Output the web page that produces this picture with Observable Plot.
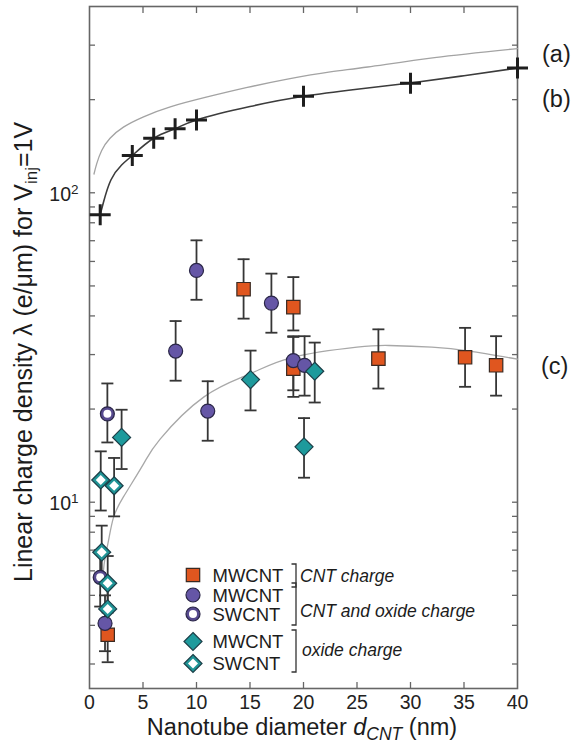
<!DOCTYPE html>
<html><head><meta charset="utf-8">
<script src="https://cdn.jsdelivr.net/npm/d3@7"></script>
<script src="https://cdn.jsdelivr.net/npm/@observablehq/plot@0.6"></script>
<style>
html,body{margin:0;padding:0;background:#fff;}
svg{display:block;}
</style></head><body><div id="chart"></div>
<script>
const FONT = "'Liberation Sans', Arial, Helvetica, sans-serif";

// ---- axes ----
const xTickLabels = [0, 5, 10, 15, 20, 25, 30, 35, 40];
const xInnerTicks = [5, 10, 15, 20, 25, 30, 35];
const yMinorTicks = [3,4,5,6,7,8,9,10,20,30,40,50,60,70,80,90,100,200,300];
const yLabelTicks = [10, 100];
const yTickLabels = ["10^1", "10^2"];

// ---- (a) model curve ----
const curveAD = [0.42, 0.67, 1.14, 1.92, 3.17, 5.05, 7.55, 11, 14.75, 18.5, 22.5, 26, 32.25, 40];
const curveAV = [115, 124, 137, 150, 163, 176, 189.5, 204, 219, 233, 246, 255, 273.5, 292.5];
// ---- (b) model curve and crosses ----
const curveBD = [1.0, 1.3, 2, 3, 4, 6, 8, 10, 15, 20, 25, 30, 35, 40];
const curveBV = [85, 93, 110, 123, 132, 150, 161, 172, 190, 205, 216, 226.5, 239, 253];
const crossD = [1, 4, 6, 8, 10, 20, 30, 40];
const crossV = [85, 132, 150, 161, 172, 205, 226, 253];
// ---- (c) fit curve ----
const curveCD = [1.3, 1.45, 1.77, 2.23, 3.17, 5.05, 6.6, 10.7, 15, 19, 25, 28, 32, 35.5, 40];
const curveCV = [6.0, 6.6, 7.5, 8.9, 10.4, 13.3, 16.0, 21.9, 26, 29.4, 31.7, 32.1, 31.7, 30.8, 29.0];

// ---- MWCNT, CNT charge (squares) ----
const sqD  = [14.4, 19.05, 19.05, 27.0, 35.1, 38.0, 1.7];
const sqV  = [48.8, 42.7, 27.0, 29.1, 29.4, 27.7, 3.73];
const sqLo = [39.2, 35.9, 21.9, 23.3, 23.6, 22.1, 3.04];
const sqHi = [61.0, 53.4, 34.4, 36.2, 36.6, 34.4, 4.6];
// ---- MWCNT, CNT and oxide charge (filled circles) ----
const mcD  = [10.0, 17.0, 8.05, 19.05, 20.1, 11.05, 1.45];
const mcV  = [56.1, 44.0, 30.8, 28.7, 27.7, 19.7, 4.06];
const mcLo = [45.1, 35.3, 24.7, 23.0, 22.1, 15.8, 3.3];
const mcHi = [70.2, 54.8, 38.5, 34.2, 34.4, 24.6, 5.0];
// ---- SWCNT, CNT and oxide charge (open circles) ----
const scD  = [1.67, 1.0];
const scV  = [19.3, 5.72];
const scLo = [15.6, 4.6];
const scHi = [24.2, 7.0];
// ---- MWCNT, oxide charge (filled diamonds) ----
const mdD  = [15.05, 21.05, 3.0, 20.05];
const mdV  = [24.9, 26.5, 16.2, 15.1];
const mdLo = [19.8, 21.0, 12.8, 12.0];
const mdHi = [30.9, 32.8, 19.9, 18.7];
// ---- SWCNT, oxide charge (open diamonds) ----
const sdD  = [1.05, 2.3, 1.14, 1.7, 1.7];
const sdV  = [11.8, 11.3, 6.89, 5.47, 4.52];
const sdLo = [9.4, 9.0, 5.6, 4.4, 3.7];
const sdHi = [14.6, 13.9, 8.4, 6.7, 5.5];

const curve = (D, V) => D.map((d, i) => ({d, v: V[i]}));
const series = (D, V, L, H) => D.map((d, i) => ({d, v: V[i], lo: L[i], hi: H[i]}));

const curveA = curve(curveAD, curveAV);
const curveB = curve(curveBD, curveBV);
const curveC = curve(curveCD, curveCV);
const crosses = curve(crossD, crossV);
const squares = series(sqD, sqV, sqLo, sqHi);
const mCircles = series(mcD, mcV, mcLo, mcHi);
const sCircles = series(scD, scV, scLo, scHi);
const mDiamonds = series(mdD, mdV, mdLo, mdHi);
const sDiamonds = series(sdD, sdV, sdLo, sdHi);
const allPts = [...squares, ...mCircles, ...sCircles, ...mDiamonds, ...sDiamonds];

// ---- custom symbols (r = sqrt(size/pi)) ----
const R = s => Math.sqrt(s / Math.PI);
const drawSquare = (c, r) => { c.moveTo(-r, -r); c.lineTo(r, -r); c.lineTo(r, r); c.lineTo(-r, r); c.closePath(); };
const drawDiamond = (c, r) => { c.moveTo(0, -r); c.lineTo(r, 0); c.lineTo(0, r); c.lineTo(-r, 0); c.closePath(); };
const drawPlus = (c, r) => { c.moveTo(-r, 0); c.lineTo(r, 0); c.moveTo(0, -r); c.lineTo(0, r); };
const drawCap = (c, r) => { c.moveTo(-r, 0); c.lineTo(r, 0); };
const symSquare = {draw: (c, s) => drawSquare(c, R(s))};
const symDiamond = {draw: (c, s) => drawDiamond(c, R(s))};
const symPlus = {draw: (c, s) => drawPlus(c, R(s))};
const symCap = {draw: (c, s) => drawCap(c, R(s))};

const C = {
  sqFill: "#E0561F", sqStroke: "#3a2a22",
  mcFill: "#6556A6", mcStroke: "#2a2647",
  scRing: "#574a8f",
  mdFill: "#1E9A9C", mdStroke: "#1c3f48",
  sdRing: "#1f9496",
  err: "#363636", axis: "#666"
};

const chart = Plot.plot({
  width: 571, height: 745,
  marginLeft: 89, marginRight: 54, marginTop: 6, marginBottom: 57,
  x: {domain: [0, 40], axis: null},
  y: {type: "log", domain: [2.5, 400], axis: null},
  style: {fontFamily: FONT, fontSize: "19.5px", background: "white", color: "#222", overflow: "visible"},
  marks: [
    Plot.axisX({anchor: "bottom", ticks: xInnerTicks, tickSize: -6, fill: "none", stroke: C.axis, strokeWidth: 1.3, label: null}),
    Plot.axisX({anchor: "top", ticks: xInnerTicks, tickSize: -6, fill: "none", stroke: C.axis, strokeWidth: 1.3, label: null}),
    Plot.axisX({anchor: "bottom", ticks: xTickLabels, tickSize: 0, tickPadding: 7, fill: "#222", fontSize: 19.5, label: null}),
    Plot.axisY({anchor: "left", ticks: yMinorTicks, tickSize: -6, fill: "none", stroke: C.axis, strokeWidth: 1.3, label: null}),
    Plot.axisY({anchor: "right", ticks: yMinorTicks, tickSize: -6, fill: "none", stroke: C.axis, strokeWidth: 1.3, label: null}),
    Plot.axisY({anchor: "left", ticks: yLabelTicks, tickSize: 0, tickPadding: 11, dy: 2, fill: "#222", fontSize: 19.5,
      tickFormat: d => yTickLabels[yLabelTicks.indexOf(d)], label: null}),
    Plot.frame({stroke: C.axis, strokeWidth: 1.6}),

    Plot.line(curveA, {x: "d", y: "v", curve: "natural", stroke: "#a3a3a3", strokeWidth: 1.3}),
    Plot.line(curveB, {x: "d", y: "v", curve: "natural", stroke: "#3c3c3c", strokeWidth: 1.6}),
    Plot.line(curveC, {x: "d", y: "v", curve: "natural", stroke: "#a8a8a8", strokeWidth: 1.3}),

    Plot.ruleX(allPts, {x: "d", y1: "lo", y2: "hi", stroke: C.err, strokeWidth: 1.8}),
    Plot.dot(allPts, {x: "d", y: "lo", symbol: symCap, r: 6, fill: "none", stroke: C.err, strokeWidth: 1.8}),
    Plot.dot(allPts, {x: "d", y: "hi", symbol: symCap, r: 6, fill: "none", stroke: C.err, strokeWidth: 1.8}),

    Plot.dot(crosses, {x: "d", y: "v", symbol: symPlus, r: 10.5, fill: "none", stroke: "#1e1e1e", strokeWidth: 3}),

    Plot.dot(squares, {x: "d", y: "v", symbol: symSquare, r: 6.7, fill: C.sqFill, stroke: C.sqStroke, strokeWidth: 1.2}),
    Plot.dot(mCircles, {x: "d", y: "v", r: 7, fill: C.mcFill, stroke: C.mcStroke, strokeWidth: 1.2}),
    Plot.dot(sCircles, {x: "d", y: "v", r: 7, fill: C.scRing, stroke: C.mcStroke, strokeWidth: 1.2}),
    Plot.dot(sCircles, {x: "d", y: "v", r: 4, fill: "white", stroke: "none"}),
    Plot.dot(mDiamonds, {x: "d", y: "v", symbol: symDiamond, r: 9, fill: C.mdFill, stroke: C.mdStroke, strokeWidth: 1.2}),
    Plot.dot(sDiamonds, {x: "d", y: "v", symbol: symDiamond, r: 9, fill: C.sdRing, stroke: C.mdStroke, strokeWidth: 1.2}),
    Plot.dot(sDiamonds, {x: "d", y: "v", symbol: symDiamond, r: 5, fill: "white", stroke: "none"})
  ]
});

document.getElementById("chart").appendChild(chart);

// ---- superscripts on y tick labels ----
const svg = d3.select(chart);
svg.selectAll("text").each(function() {
  const t = this.textContent;
  if (t.includes("^")) {
    const [base, sup] = t.split("^");
    const el = d3.select(this);
    el.text(null);
    el.append("tspan").text(base);
    el.append("tspan").attr("font-size", 13.5).attr("dy", -7).text(sup);
  }
});

// ---- text annotations and legend ----
const g = svg.append("g").attr("font-family", FONT).attr("fill", "#1c1c1c").attr("text-anchor", "start");

const xl = g.append("text").attr("x", 302).attr("y", 735).attr("text-anchor", "middle").attr("font-size", 23.5);
xl.append("tspan").text("Nanotube diameter ");
xl.append("tspan").attr("font-style", "italic").text("d");
xl.append("tspan").attr("font-style", "italic").attr("font-size", 17.5).attr("dy", 5).text("CNT");
xl.append("tspan").attr("dy", -5).text(" (nm)");

const yl = g.append("text").attr("transform", "translate(31.5,582) rotate(-90)").attr("font-size", 25);
yl.append("tspan").text("Linear charge density \u03BB (e/\u03BCm) for V");
yl.append("tspan").attr("font-size", 17).attr("dy", 5).text("inj");
yl.append("tspan").attr("dy", -5).text("=1V");

g.append("text").attr("x", 542).attr("y", 62).attr("font-size", 23.5).text("(a)");
g.append("text").attr("x", 542).attr("y", 107).attr("font-size", 23.5).text("(b)");
g.append("text").attr("x", 541).attr("y", 374).attr("font-size", 23.5).text("(c)");

const legendRows = [
  {y: 575, kind: "square", label: "MWCNT"},
  {y: 595, kind: "circle", label: "MWCNT"},
  {y: 614, kind: "ocircle", label: "SWCNT"},
  {y: 641.5, kind: "diamond", label: "MWCNT"},
  {y: 663.5, kind: "odiamond", label: "SWCNT"}
];
const LX = 193;
const pathOf = (fn, r) => { const p = d3.path(); fn(p, r); return p.toString(); };
const lg = g.append("g");
for (const row of legendRows) {
  const t = `translate(${LX},${row.y})`;
  if (row.kind === "square") {
    lg.append("path").attr("transform", t).attr("d", pathOf(drawSquare, 6.7)).attr("fill", C.sqFill).attr("stroke", C.sqStroke).attr("stroke-width", 1.2);
  } else if (row.kind === "circle") {
    lg.append("circle").attr("cx", LX).attr("cy", row.y).attr("r", 7).attr("fill", C.mcFill).attr("stroke", C.mcStroke).attr("stroke-width", 1.2);
  } else if (row.kind === "ocircle") {
    lg.append("circle").attr("cx", LX).attr("cy", row.y).attr("r", 7).attr("fill", C.scRing).attr("stroke", C.mcStroke).attr("stroke-width", 1.2);
    lg.append("circle").attr("cx", LX).attr("cy", row.y).attr("r", 4).attr("fill", "white");
  } else if (row.kind === "diamond") {
    lg.append("path").attr("transform", t).attr("d", pathOf(drawDiamond, 9)).attr("fill", C.mdFill).attr("stroke", C.mdStroke).attr("stroke-width", 1.2);
  } else {
    lg.append("path").attr("transform", t).attr("d", pathOf(drawDiamond, 9)).attr("fill", C.sdRing).attr("stroke", C.mdStroke).attr("stroke-width", 1.2);
    lg.append("path").attr("transform", t).attr("d", pathOf(drawDiamond, 5)).attr("fill", "white");
  }
  lg.append("text").attr("x", 212.5).attr("y", row.y + 6.6).attr("font-size", 18.5).text(row.label);
}
const brackets = [[564, 587], [583, 625], [630, 672]];
for (const [y1, y2] of brackets) {
  lg.append("path").attr("d", `M291.5,${y1}H296V${y2}H291.5`).attr("fill", "none").attr("stroke", "#333").attr("stroke-width", 1.3);
}
const groupLabels = [
  {y: 581.5, x: 300, text: "CNT charge"},
  {y: 617, x: 300, text: "CNT and oxide charge"},
  {y: 656, x: 302, text: "oxide charge"}
];
for (const gl of groupLabels) {
  lg.append("text").attr("x", gl.x).attr("y", gl.y).attr("font-size", 17.5).attr("font-style", "italic").text(gl.text);
}
</script></body></html>
